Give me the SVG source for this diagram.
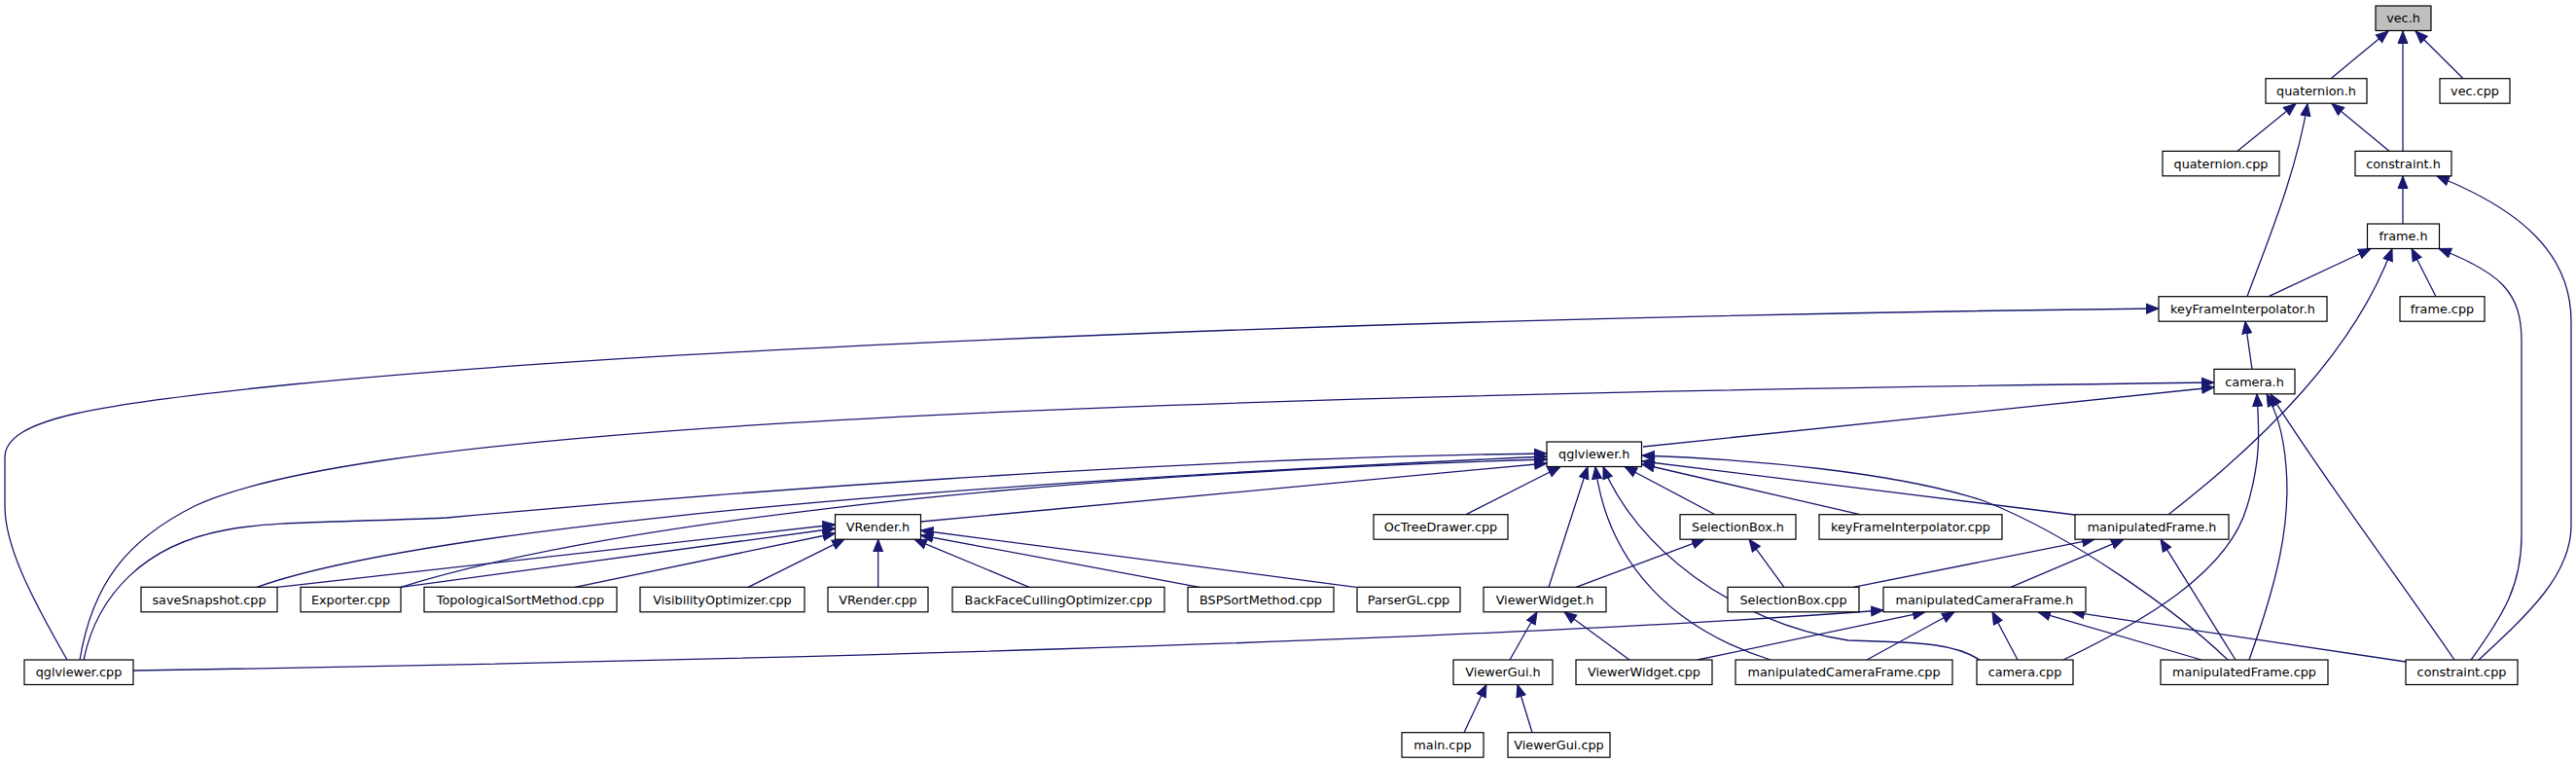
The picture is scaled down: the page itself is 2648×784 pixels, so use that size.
<svg xmlns="http://www.w3.org/2000/svg" width="2648" height="784" viewBox="0 0 2648 784">
<style>
.n rect{fill:#fff;stroke:#000;stroke-width:1.2}
.n.root rect{fill:#bfbfbf}
.n text{font-family:"DejaVu Sans",sans-serif;font-size:12.8px;fill:#000;text-anchor:middle}
#edges path{fill:none;stroke:#191970;stroke-width:1.3;marker-end:url(#ah)}
</style>
<defs>
<marker id="ah" markerUnits="userSpaceOnUse" markerWidth="16" markerHeight="12" refX="13" refY="6" orient="auto">
<path d="M0.5,1 L13,6 L0.5,11 z" fill="#191970" stroke="#191970" stroke-width="1"/>
</marker>
</defs>
<rect width="2648" height="784" fill="#fff"/>
<g id="edges">
<path d="M2396,80.7 L2455,32"/>
<path d="M2470,155.3 L2470,32"/>
<path d="M2532,80.7 L2483,32"/>
<path d="M2300,155.3 L2360,106.5"/>
<path d="M2456,155.3 L2397,106.5"/>
<path d="M2310,304.7 C2330,250 2360,180 2372,106.5"/>
<path d="M2470,230 L2470,181"/>
<path d="M2548,678 C2600,630 2643,590 2643,540 L2643,330 C2643,260 2590,215 2505,181"/>
<path d="M2332,304.7 L2437,255.5"/>
<path d="M2229,528.7 C2330,450 2420,360 2459,255.5"/>
<path d="M2504,304.7 L2479,255.5"/>
<path d="M2540,678 C2575,630 2592,600 2592,550 L2592,350 C2592,300 2570,280 2507,255.5"/>
<path d="M2315,379.3 L2308,330.2"/>
<path d="M69,678 C30,610 5,560 5,520 L5,470 C5,430 100,415 300,395 C700,355 1500,325 2219,317"/>
<path d="M1689,459 L2276,398"/>
<path d="M82,678 C95,600 130,555 200,520 C350,450 900,410 2276,393"/>
<path d="M2121,678 C2200,640 2290,590 2310,520 C2325,470 2322,440 2320,404.8"/>
<path d="M2312,678 C2340,600 2355,540 2350,480 C2347,440 2338,420 2330,404.8"/>
<path d="M2523,678 C2470,600 2380,480 2334,404.8"/>
<path d="M264,603.3 C400,555 800,505 1590,469"/>
<path d="M412,603.3 C600,545 1000,490 1590,472"/>
<path d="M946.5,536 L1590,476"/>
<path d="M86,678 C100,610 150,560 230,545 C280,535 350,537 459,532 C700,510 1200,470 1590,466"/>
<path d="M1507,528.7 L1604,479.5"/>
<path d="M1592,603.3 L1632,479.5"/>
<path d="M1820,678 C1700,640 1650,560 1640,479.5"/>
<path d="M2035,678 C2010,662 1980,660 1900,658 C1780,640 1680,560 1648,479.5"/>
<path d="M1763,528.7 L1670,479.5"/>
<path d="M1912,528.7 L1688,477"/>
<path d="M2133,529 L1688,474"/>
<path d="M2290,678 C2240,630 2130,550 2040,515 C1950,485 1800,472 1688,468"/>
<path d="M285,603.3 L858.5,539"/>
<path d="M412,603.3 L858.5,543"/>
<path d="M591,603.3 L858.5,548"/>
<path d="M769,603.3 L868,554.2"/>
<path d="M902.7,603.3 L902.7,554.2"/>
<path d="M1058,603.3 L940,554.2"/>
<path d="M1233,603.3 L946.5,550"/>
<path d="M1394,603.3 L946.5,545"/>
<path d="M1620,603.3 L1752,554.2"/>
<path d="M1834,603.3 L1798,554.2"/>
<path d="M1905,603.3 L2153,554.2"/>
<path d="M2067,603.3 L2183,554.2"/>
<path d="M2298,678 L2221,554.2"/>
<path d="M1552,678 L1580,628.8"/>
<path d="M1675,678 L1608,628.8"/>
<path d="M137,689 C700,680 1500,660 1936,627"/>
<path d="M1745,678 L1979,628.8"/>
<path d="M1919,678 L2009,628.8"/>
<path d="M2074,678 L2048,628.8"/>
<path d="M2263,678 L2095,628.8"/>
<path d="M2473,680 L2130,628.8"/>
<path d="M1505,752.7 L1528,703.5"/>
<path d="M1575,752.7 L1560,703.5"/>
</g>
<g id="n_vec_h" class="n root"><rect x="2442" y="6" width="57" height="25.5"/><text x="2470.5" y="23.3">vec.h</text></g>
<g id="n_quaternion_h" class="n"><rect x="2329" y="80.7" width="104" height="25.5"/><text x="2381" y="98">quaternion.h</text></g>
<g id="n_vec_cpp" class="n"><rect x="2508" y="80.7" width="72" height="25.5"/><text x="2544" y="98">vec.cpp</text></g>
<g id="n_quaternion_cpp" class="n"><rect x="2223" y="155.3" width="120" height="25.5"/><text x="2283" y="172.6">quaternion.cpp</text></g>
<g id="n_constraint_h" class="n"><rect x="2421" y="155.3" width="99" height="25.5"/><text x="2470.5" y="172.6">constraint.h</text></g>
<g id="n_frame_h" class="n"><rect x="2433.5" y="230" width="74" height="25.5"/><text x="2470.5" y="247.3">frame.h</text></g>
<g id="n_kfi_h" class="n"><rect x="2219" y="304.7" width="173" height="25.5"/><text x="2305.5" y="322">keyFrameInterpolator.h</text></g>
<g id="n_frame_cpp" class="n"><rect x="2467" y="304.7" width="87" height="25.5"/><text x="2510.5" y="322">frame.cpp</text></g>
<g id="n_camera_h" class="n"><rect x="2276" y="379.3" width="83" height="25.5"/><text x="2317.5" y="396.6">camera.h</text></g>
<g id="n_qglviewer_h" class="n"><rect x="1590" y="454" width="97.5" height="25.5"/><text x="1638.75" y="471.3">qglviewer.h</text></g>
<g id="n_vrender_h" class="n"><rect x="858.5" y="528.7" width="88" height="25.5"/><text x="902.5" y="546">VRender.h</text></g>
<g id="n_octreedrawer_cpp" class="n"><rect x="1412" y="528.7" width="138" height="25.5"/><text x="1481" y="546">OcTreeDrawer.cpp</text></g>
<g id="n_selectionbox_h" class="n"><rect x="1727" y="528.7" width="119" height="25.5"/><text x="1786.5" y="546">SelectionBox.h</text></g>
<g id="n_kfi_cpp" class="n"><rect x="1870" y="528.7" width="188" height="25.5"/><text x="1964" y="546">keyFrameInterpolator.cpp</text></g>
<g id="n_manipulatedframe_h" class="n"><rect x="2133" y="528.7" width="158" height="25.5"/><text x="2212" y="546">manipulatedFrame.h</text></g>
<g id="n_savesnapshot_cpp" class="n"><rect x="145" y="603.3" width="140" height="25.5"/><text x="215" y="620.6">saveSnapshot.cpp</text></g>
<g id="n_exporter_cpp" class="n"><rect x="309" y="603.3" width="103" height="25.5"/><text x="360.5" y="620.6">Exporter.cpp</text></g>
<g id="n_topological_cpp" class="n"><rect x="436" y="603.3" width="198" height="25.5"/><text x="535" y="620.6">TopologicalSortMethod.cpp</text></g>
<g id="n_visibility_cpp" class="n"><rect x="658" y="603.3" width="169" height="25.5"/><text x="742.5" y="620.6">VisibilityOptimizer.cpp</text></g>
<g id="n_vrender_cpp" class="n"><rect x="851" y="603.3" width="103" height="25.5"/><text x="902.5" y="620.6">VRender.cpp</text></g>
<g id="n_backface_cpp" class="n"><rect x="979" y="603.3" width="218" height="25.5"/><text x="1088" y="620.6">BackFaceCullingOptimizer.cpp</text></g>
<g id="n_bsp_cpp" class="n"><rect x="1221" y="603.3" width="150" height="25.5"/><text x="1296" y="620.6">BSPSortMethod.cpp</text></g>
<g id="n_parsergl_cpp" class="n"><rect x="1395" y="603.3" width="106" height="25.5"/><text x="1448" y="620.6">ParserGL.cpp</text></g>
<g id="n_viewerwidget_h" class="n"><rect x="1525" y="603.3" width="126" height="25.5"/><text x="1588" y="620.6">ViewerWidget.h</text></g>
<g id="n_selectionbox_cpp" class="n"><rect x="1776" y="603.3" width="135" height="25.5"/><text x="1843.5" y="620.6">SelectionBox.cpp</text></g>
<g id="n_mcf_h" class="n"><rect x="1936" y="603.3" width="208" height="25.5"/><text x="2040" y="620.6">manipulatedCameraFrame.h</text></g>
<g id="n_qglviewer_cpp" class="n"><rect x="25" y="678" width="112" height="25.5"/><text x="81" y="695.3">qglviewer.cpp</text></g>
<g id="n_viewergui_h" class="n"><rect x="1494" y="678" width="102" height="25.5"/><text x="1545" y="695.3">ViewerGui.h</text></g>
<g id="n_viewerwidget_cpp" class="n"><rect x="1620" y="678" width="140" height="25.5"/><text x="1690" y="695.3">ViewerWidget.cpp</text></g>
<g id="n_mcf_cpp" class="n"><rect x="1784" y="678" width="223" height="25.5"/><text x="1895.5" y="695.3">manipulatedCameraFrame.cpp</text></g>
<g id="n_camera_cpp" class="n"><rect x="2032" y="678" width="99" height="25.5"/><text x="2081.5" y="695.3">camera.cpp</text></g>
<g id="n_manipulatedframe_cpp" class="n"><rect x="2221" y="678" width="172" height="25.5"/><text x="2307" y="695.3">manipulatedFrame.cpp</text></g>
<g id="n_constraint_cpp" class="n"><rect x="2473" y="678" width="115" height="25.5"/><text x="2530.5" y="695.3">constraint.cpp</text></g>
<g id="n_main_cpp" class="n"><rect x="1441" y="752.7" width="84" height="25.5"/><text x="1483" y="770">main.cpp</text></g>
<g id="n_viewergui_cpp" class="n"><rect x="1550" y="752.7" width="105" height="25.5"/><text x="1602.5" y="770">ViewerGui.cpp</text></g>
</svg>
